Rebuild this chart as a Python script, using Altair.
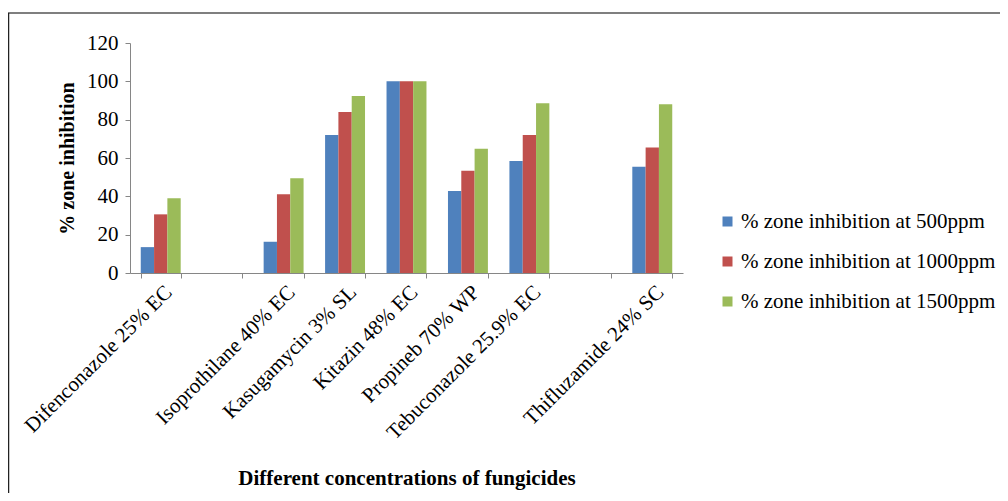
import altair as alt
import pandas as pd

categories = ["Difenconazole 25% EC", " ", "Isoprothilane 40% EC", "Kasugamycin 3% SL",
              "Kitazin 48% EC", "Propineb 70% WP", "Tebuconazole 25.9% EC", "  ",
              "Thifluzamide 24% SC"]
fungicides = ["Difenconazole 25% EC", "Isoprothilane 40% EC", "Kasugamycin 3% SL",
              "Kitazin 48% EC", "Propineb 70% WP", "Tebuconazole 25.9% EC",
              "Thifluzamide 24% SC"]
series = ["% zone inhibition at 500ppm", "% zone inhibition at 1000ppm",
          "% zone inhibition at 1500ppm"]
v500 = [13.5, 16.3, 72.0, 100.0, 42.8, 58.4, 55.4]
v1000 = [30.6, 41.1, 84.0, 100.0, 53.4, 72.0, 65.5]
v1500 = [39.0, 49.4, 92.4, 100.0, 64.8, 88.6, 88.0]
colors = ["#4F81BD", "#C0504D", "#9BBB59"]
y_ticks = [0, 20, 40, 60, 80, 100, 120]

rows = []
for s, vals in zip(series, [v500, v1000, v1500]):
    for f, v in zip(fungicides, vals):
        rows.append({"fungicide": f, "series": s, "value": v})
df = pd.DataFrame(rows)

FONT = "Liberation Serif"

bars = alt.Chart(df).mark_bar().encode(
    x=alt.X("fungicide:N",
            scale=alt.Scale(domain=categories, paddingInner=0.35, paddingOuter=0.175),
            axis=alt.Axis(title="Different concentrations of fungicides",
                          labelAngle=-45, labelFontSize=21, labelFont=FONT,
                          labelColor="black", tickBand="extent", tickSize=5,
                          tickColor="#868686", domainColor="#868686",
                          titleFont=FONT, titleFontSize=21, titleFontWeight="bold",
                          titleColor="black", titleY=194, labelPadding=3,
                          labelLimit=400)),
    xOffset=alt.XOffset("series:N", scale=alt.Scale(domain=series, paddingInner=0, paddingOuter=0)),
    y=alt.Y("value:Q",
            scale=alt.Scale(domain=[0, 120]),
            axis=alt.Axis(title="% zone inhibition", values=y_ticks, grid=False,
                          tickSize=5, tickColor="#868686", domainColor="#868686",
                          labelFontSize=21, labelFont=FONT, labelColor="black",
                          labelPadding=7, titleFont=FONT, titleFontSize=20,
                          titleFontWeight="bold", titleColor="black", titlePadding=9)),
    color=alt.Color("series:N",
                    scale=alt.Scale(domain=series, range=colors),
                    legend=alt.Legend(title=None, orient="none", legendX=587, legendY=168,
                                      symbolType="square", symbolSize=100,
                                      symbolStrokeWidth=0, labelFont=FONT,
                                      labelFontSize=21, labelColor="black",
                                      labelOffset=3, rowPadding=18, padding=0,
                                      labelLimit=400)),
)

frame_df = pd.DataFrame({"k": [0]})
top_line = alt.Chart(frame_df).mark_rule(color="#555555", strokeWidth=1.5).encode(
    x=alt.value(-122), x2=alt.value(880), y=alt.value(-30))
left_line = alt.Chart(frame_df).mark_rule(color="#222222", strokeWidth=1.5).encode(
    x=alt.value(-121.5), y=alt.value(-30), y2=alt.value(460))

chart = alt.layer(bars, top_line, left_line).properties(
    width=553, height=230,
    autosize=alt.AutoSizeParams(type="none"),
    padding={"left": 122, "top": 35, "right": 317, "bottom": 220},
).configure(background="white").configure_view(stroke=None)

chart.save("out.html", embed_options={"renderer": "svg", "actions": False})
